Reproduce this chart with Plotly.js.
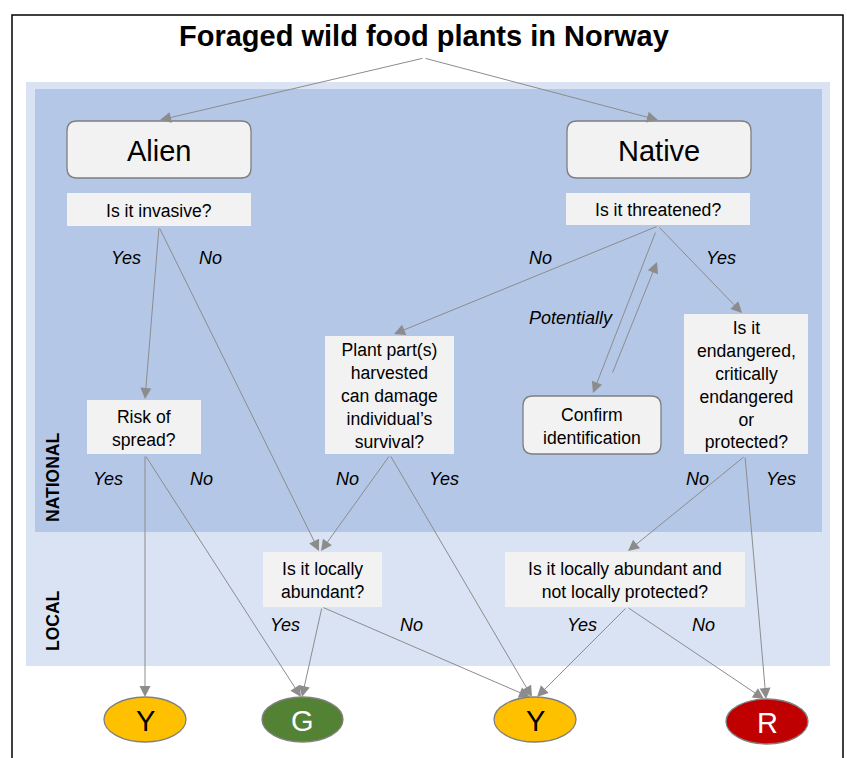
<!DOCTYPE html>
<html>
<head>
<meta charset="utf-8">
<script src="https://cdn.plot.ly/plotly-3.0.1.min.js"></script>
<style>html,body{margin:0;padding:0;background:#fff;}#chart{width:847px;height:758px;}</style>
</head>
<body>
<div id="chart"></div>
<script>
// ---- data: node texts ----
const chartTitle = "Foraged wild food plants in Norway";
const nodeIds = ["alien","native","invasive","threatened","risk","plant","confirm","endangered","local1","local2"];
const nodeLabels = [
  "Alien",
  "Native",
  "Is it invasive?",
  "Is it threatened?",
  "Risk of<br>spread?",
  "Plant part(s)<br>harvested<br>can damage<br>individual’s<br>survival?",
  "Confirm<br>identification",
  "Is it<br>endangered,<br>critically<br>endangered<br>or<br>protected?",
  "Is it locally<br>abundant?",
  "Is it locally abundant and<br>not locally protected?"
];
const outcomeIds = ["y1","g","y2","r"];
const outcomeLabels = ["Y","G","Y","R"];
const levelLabels = ["NATIONAL","LOCAL"];
// ---- data: edges (from -> to, with branch label) ----
const edgeFrom  = ["title","title","invasive","invasive","threatened","threatened","confirm","threatened","risk","risk","plant","plant","endangered","endangered","local1","local1","local2","local2"];
const edgeTo    = ["alien","native","risk","local1","plant","confirm","threatened","endangered","y1","g","local1","y2","local2","r","g","y2","y2","r"];
const edgeLabel = ["","","Yes","No","No","Potentially","","Yes","Yes","No","No","Yes","No","Yes","Yes","No","Yes","No"];

// ---- layout geometry (pixel-like data coordinates) ----
const nodeBox = {
  alien:[67,121,251,178], native:[567,121,751,178],
  invasive:[67,193,251,226], threatened:[566,193,750,225],
  risk:[87,400,201,454], plant:[325,336,454,454],
  confirm:[523,396,661,454], endangered:[684,314,808,454],
  local1:[263,552,382,607], local2:[505,552,745,607]
};
const roundedNodes = {alien:true, native:true, confirm:true};
const nodeFont = {alien:29, native:29};
const outcomeBox = {y1:[104,697,186,742], g:[262,697,343,742], y2:[494,697,576,742], r:[726,699,808,744]};
const outcomeFill = {y1:"#ffc000", g:"#548235", y2:"#ffc000", r:"#c00000"};
const outcomeText = {y1:"#000", g:"#fff", y2:"#000", r:"#fff"};
// arrow tail / head per edge index
const edgeGeom = [
  [424,58,160,120],[424,58,658,120],
  [159,227,145,399],[159,227,319,551],
  [658,226,394,334],[656,231,593,393],
  [612,374,657,262],[658,226,742,313],
  [145,455,145,697],[145,455,301,697],
  [390,455,321,551],[390,455,532,697],
  [745,456,628,551],[745,456,766,699],
  [322,607,302,697],[322,607,530,697],
  [627,607,537,697],[627,607,764,699]
];
const edgeLabelPos = [
  null,null,[126,258],[210,258],[540,258],[571,318],null,[721,258],
  [108,479],[201,479],[347,479],[444,479],[697,479],[781,479],
  [285,625],[411,625],[582,625],[703,625]
];

const FONT = "Liberation Sans, Arial, Helvetica, sans-serif";
const shapes = [];
const annotations = [];

// outer frame
shapes.push({type:"rect",xref:"x",yref:"y",x0:12,y0:15,x1:843,y1:800,line:{color:"#000",width:1.5},fillcolor:"rgba(0,0,0,0)",layer:"below"});
// bands
shapes.push({type:"rect",xref:"x",yref:"y",x0:26,y0:82,x1:830,y1:666,line:{width:0},fillcolor:"#dae3f3",layer:"below"});
shapes.push({type:"rect",xref:"x",yref:"y",x0:35,y0:89,x1:822,y1:532,line:{width:0},fillcolor:"#b4c7e7",layer:"below"});

function rr(x0,y0,x1,y1,r){
  return `M${x0+r},${y0} L${x1-r},${y0} Q${x1},${y0} ${x1},${y0+r} L${x1},${y1-r} Q${x1},${y1} ${x1-r},${y1} L${x0+r},${y1} Q${x0},${y1} ${x0},${y1-r} L${x0},${y0+r} Q${x0},${y0} ${x0+r},${y0} Z`;
}

nodeIds.forEach((id,i)=>{
  const b = nodeBox[id];
  if (roundedNodes[id]) {
    shapes.push({type:"path",xref:"x",yref:"y",path:rr(b[0],b[1],b[2],b[3],10),fillcolor:"#f2f2f2",line:{color:"#7f7f7f",width:1.3},layer:"below"});
  } else {
    shapes.push({type:"rect",xref:"x",yref:"y",x0:b[0],y0:b[1],x1:b[2],y1:b[3],fillcolor:"#f2f2f2",line:{width:0},layer:"below"});
  }
  annotations.push({xref:"x",yref:"y",x:(b[0]+b[2])/2,y:(b[1]+b[3])/2+1,text:nodeLabels[i],showarrow:false,align:"center",
    xanchor:"center",yanchor:"middle",font:{family:FONT,size:nodeFont[id]||17.6,color:"#000"}});
});

outcomeIds.forEach((id,i)=>{
  const b = outcomeBox[id];
  shapes.push({type:"circle",xref:"x",yref:"y",x0:b[0],y0:b[1],x1:b[2],y1:b[3],fillcolor:outcomeFill[id],line:{color:"#808080",width:1.3},layer:"below"});
  annotations.push({xref:"x",yref:"y",x:(b[0]+b[2])/2,y:(b[1]+b[3])/2+1,text:outcomeLabels[i],showarrow:false,
    xanchor:"center",yanchor:"middle",font:{family:FONT,size:29,color:outcomeText[id]}});
});

// title
annotations.push({xref:"x",yref:"y",x:424,y:36,text:"<b>"+chartTitle+"</b>",showarrow:false,xanchor:"center",yanchor:"middle",
  font:{family:FONT,size:29,color:"#000"}});
// level labels
annotations.push({xref:"x",yref:"y",x:53,y:478,text:"<b>"+levelLabels[0]+"</b>",showarrow:false,textangle:-90,xanchor:"center",yanchor:"middle",font:{family:FONT,size:17.5,color:"#000"}});
annotations.push({xref:"x",yref:"y",x:53,y:621,text:"<b>"+levelLabels[1]+"</b>",showarrow:false,textangle:-90,xanchor:"center",yanchor:"middle",font:{family:FONT,size:17.5,color:"#000"}});

// edges
edgeFrom.forEach((f,i)=>{
  const g = edgeGeom[i];
  annotations.push({xref:"x",yref:"y",axref:"x",ayref:"y",x:g[2],y:g[3],ax:g[0],ay:g[1],text:"",showarrow:true,
    arrowhead:2,arrowsize:2.2,arrowwidth:1,arrowcolor:"#8c8c8c",standoff:0,startstandoff:0});
  if (edgeLabel[i] && edgeLabelPos[i]) {
    const p = edgeLabelPos[i];
    annotations.push({xref:"x",yref:"y",x:p[0],y:p[1],text:"<i>"+edgeLabel[i]+"</i>",showarrow:false,xanchor:"center",yanchor:"middle",
      font:{family:FONT,size:18,color:"#000"}});
  }
});

const layout = {
  width:847,height:758,margin:{l:0,r:0,t:0,b:0},
  paper_bgcolor:"#fff",plot_bgcolor:"#fff",
  xaxis:{range:[0,847],visible:false,fixedrange:true},
  yaxis:{range:[758,0],visible:false,fixedrange:true},
  showlegend:false,shapes:shapes,annotations:annotations
};
Plotly.newPlot("chart",[{x:[],y:[],type:"scatter",mode:"markers"}],layout,{displayModeBar:false,staticPlot:true});
</script>
</body>
</html>
